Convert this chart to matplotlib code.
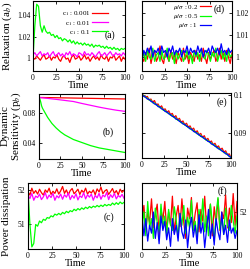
import numpy as np
import matplotlib.pyplot as plt

plt.rcParams['font.family'] = ['Liberation Serif', 'DejaVu Serif']
plt.rcParams['mathtext.fontset'] = 'stix'

W, H = 251, 269

# time axis (every 2 steps) and a coarser one for the smooth curves
t = np.arange(0, 101, 2)
t_smooth = [0, 1, 2, 3, 4, 5, 7.5, 10, 15, 20, 25, 30, 40, 50, 60, 70, 80, 90, 100]

c1_labels = ['c$_1$ : 0.001', 'c$_1$ : 0.01', 'c$_1$ : 0.1']
mu_labels = [r'$\mu/\sigma$ : 0.2', r'$\mu/\sigma$ : 0.5', r'$\mu/\sigma$ : 1']

# (a) relaxation vs c1
relax_001 = [1.000, 0.999, 1.002, 1.000, 0.998, 1.001, 1.003, 0.999, 1.000, 1.002, 0.998, 1.001, 1.000,
             1.003, 0.999, 0.997, 1.001, 1.002, 0.999, 1.000, 0.996, 1.001, 1.003, 0.999, 1.000, 1.002,
             0.998, 1.000, 1.003, 0.999, 1.001, 0.997, 1.000, 1.002, 0.999, 1.001, 0.998, 1.003, 1.000,
             0.999, 1.002, 0.997, 1.001, 1.000, 1.003, 0.998, 1.000, 1.002, 0.997, 1.001, 0.999]
relax_01 = [1.003, 1.005, 1.002, 1.004, 1.006, 1.002, 1.004, 1.003, 1.005, 1.001, 1.004, 1.006, 1.002,
            1.003, 1.005, 1.002, 1.004, 1.001, 1.005, 1.003, 1.006, 1.002, 1.004, 1.003, 1.001, 1.005,
            1.004, 1.002, 1.006, 1.003, 1.004, 1.002, 1.005, 1.003, 1.001, 1.004, 1.006, 1.002, 1.003,
            1.005, 1.002, 1.004, 1.006, 1.003, 1.002, 1.005, 1.003, 1.004, 1.002, 1.005, 1.003]
relax_1 = [1.000, 1.030, 1.050, 1.048, 1.030, 1.024, 1.030, 1.025, 1.023, 1.024, 1.021, 1.022, 1.019,
           1.021, 1.018, 1.019, 1.016, 1.018, 1.017, 1.015, 1.017, 1.014, 1.016, 1.013, 1.015, 1.013,
           1.014, 1.012, 1.014, 1.012, 1.013, 1.011, 1.013, 1.010, 1.012, 1.011, 1.012, 1.010, 1.011,
           1.009, 1.011, 1.009, 1.010, 1.008, 1.010, 1.008, 1.009, 1.007, 1.009, 1.008, 1.009]

# (b) dynamic sensitivity vs c1
sens_001 = [0.1000, 0.0999, 0.0999, 0.0999, 0.0999, 0.0999, 0.0998, 0.0998, 0.0997, 0.0996, 0.0995,
            0.0994, 0.0992, 0.0990, 0.0988, 0.0986, 0.0984, 0.0982, 0.0980]
sens_01 = [0.1000, 0.0998, 0.0997, 0.0996, 0.0995, 0.0994, 0.0991, 0.0988, 0.0981, 0.0975, 0.0968,
           0.0961, 0.0947, 0.0921, 0.0897, 0.0873, 0.0852, 0.0833, 0.0818]
sens_1 = [0.1000, 0.0980, 0.0940, 0.0890, 0.0860, 0.0840, 0.0790, 0.0740, 0.0660, 0.0600, 0.0550,
          0.0510, 0.0450, 0.0410, 0.0370, 0.0340, 0.0320, 0.0300, 0.0280]

# (c) power dissipation vs c1
power_001 = [51.95, 51.85, 52.05, 51.90, 51.98, 51.88, 52.02, 51.92, 51.85, 52.00, 51.93, 52.05, 51.87,
             51.96, 51.90, 52.03, 51.88, 51.97, 52.10, 51.90, 52.00, 51.86, 51.98, 52.04, 51.89, 51.95,
             52.02, 51.87, 51.99, 51.92, 52.05, 51.88, 51.96, 51.91, 52.00, 51.86, 52.03, 51.94, 52.08,
             51.89, 51.97, 52.01, 51.87, 51.95, 52.04, 51.90, 51.98, 51.86, 52.02, 51.93, 51.99]
power_01 = [51.85, 51.75, 51.90, 51.70, 51.82, 51.78, 51.88, 51.72, 51.80, 51.92, 51.74, 51.85, 51.78,
            51.90, 51.70, 51.83, 51.77, 51.88, 51.73, 51.86, 51.79, 51.91, 51.72, 51.84, 51.76, 51.89,
            51.71, 51.83, 51.78, 51.92, 51.74, 51.86, 51.79, 51.88, 51.70, 51.84, 51.77, 51.90, 51.73,
            51.85, 51.80, 51.93, 51.72, 51.86, 51.78, 51.90, 51.74, 51.84, 51.79, 51.87, 51.76]
power_1 = [52.00, 51.00, 50.35, 50.45, 51.00, 50.95, 51.10, 51.05, 51.15, 51.12, 51.20, 51.18, 51.25,
           51.22, 51.30, 51.27, 51.32, 51.28, 51.35, 51.31, 51.38, 51.34, 51.40, 51.37, 51.44, 51.40,
           51.46, 51.42, 51.48, 51.44, 51.50, 51.46, 51.52, 51.48, 51.53, 51.50, 51.55, 51.51, 51.56,
           51.52, 51.58, 51.54, 51.58, 51.55, 51.62, 51.57, 51.63, 51.58, 51.65, 51.60, 51.64]

# (d) relaxation vs mu/sigma
relax_m02 = [1.000, 0.998, 1.002, 0.999, 1.004, 0.997, 1.001, 1.003, 0.998, 1.000, 1.005, 0.999, 0.997,
             1.002, 1.000, 0.998, 1.003, 0.999, 1.001, 0.997, 1.002, 1.000, 0.998, 1.004, 0.999, 1.001,
             0.997, 1.002, 1.000, 0.998, 1.003, 0.999, 1.001, 0.998, 1.004, 1.000, 0.997, 1.002, 0.999,
             1.001, 1.003, 0.998, 1.000, 1.004, 0.999, 1.002, 0.998, 1.003, 1.000, 0.997, 1.002]
relax_m05 = [0.999, 1.002, 0.998, 1.003, 1.000, 0.999, 1.004, 0.998, 1.001, 1.002, 0.998, 1.003, 0.999,
             1.000, 1.004, 0.998, 1.001, 1.002, 0.997, 1.003, 0.999, 1.001, 1.003, 0.998, 1.000, 1.003,
             0.999, 1.001, 0.997, 1.003, 1.000, 1.002, 0.998, 1.003, 1.000, 0.999, 1.003, 1.001, 0.998,
             1.002, 1.000, 1.004, 0.998, 1.001, 1.003, 0.999, 1.002, 0.998, 1.003, 1.000, 1.001]
relax_m1 = [0.998, 1.003, 1.001, 1.004, 1.002, 1.005, 1.000, 1.003, 1.002, 1.004, 1.001, 1.005, 1.002,
            1.003, 1.000, 1.004, 1.002, 1.005, 1.001, 1.003, 1.002, 1.004, 1.000, 1.003, 1.002, 1.005,
            1.001, 1.004, 1.002, 1.003, 1.001, 1.005, 1.002, 1.004, 1.000, 1.003, 1.002, 1.004, 1.001,
            1.005, 1.003, 1.002, 1.004, 1.001, 1.006, 1.002, 1.003, 1.001, 1.004, 1.002, 1.003]

# (e) dynamic sensitivity vs mu/sigma
sens_m02 = [.1000, .0999, .0994, .0996, .0987, .0989, .0981, .0985, .0974, .0976, .0967, .0971, .0961,
            .0963, .0954, .0958, .0948, .0951, .0941, .0945, .0934, .0938, .0928, .0931, .0921, .0925,
            .0915, .0918, .0908, .0912, .0901, .0905, .0895, .0898, .0888, .0892, .0881, .0885, .0875,
            .0878, .0868, .0872, .0862, .0865, .0855, .0859, .0849, .0852, .0842, .0844, .0834]
sens_m05 = [.1000, .0998, .0993, .0992, .0986, .0986, .0979, .0979, .0973, .0972, .0966, .0966, .0959,
            .0959, .0953, .0952, .0946, .0946, .0940, .0939, .0933, .0933, .0926, .0926, .0920, .0919,
            .0913, .0913, .0907, .0906, .0900, .0900, .0893, .0893, .0887, .0886, .0880, .0880, .0874,
            .0873, .0867, .0867, .0860, .0860, .0854, .0853, .0847, .0847, .0841, .0839, .0834]
sens_m1 = [.1001, .0996, .0994, .0989, .0988, .0983, .0981, .0976, .0975, .0969, .0968, .0963, .0961,
           .0956, .0955, .0950, .0948, .0943, .0942, .0936, .0935, .0930, .0928, .0923, .0922, .0917,
           .0915, .0910, .0909, .0903, .0902, .0897, .0895, .0890, .0889, .0884, .0882, .0877, .0876,
           .0870, .0869, .0864, .0862, .0857, .0856, .0851, .0849, .0844, .0843, .0837, .0835]

# (f) power dissipation vs mu/sigma
power_m02 = [51.95, 52.05, 51.85, 52.00, 51.92, 52.10, 51.88, 51.98, 52.06, 51.83, 52.02, 51.94, 52.08,
             51.86, 52.00, 51.90, 52.12, 51.84, 51.97, 52.05, 51.89, 52.10, 51.92, 51.80, 52.03, 51.95,
             52.11, 51.87, 51.99, 52.07, 51.85, 52.02, 51.93, 52.12, 51.88, 51.96, 52.06, 51.82, 52.04,
             51.91, 52.10, 51.86, 52.00, 51.95, 52.13, 51.88, 52.03, 51.92, 52.14, 51.90, 52.08]
power_m05 = [51.90, 52.00, 51.82, 52.08, 51.88, 51.95, 51.80, 52.03, 51.92, 51.85, 52.06, 51.89, 51.97,
             51.83, 52.02, 51.91, 51.86, 52.04, 51.94, 51.81, 51.99, 51.90, 52.05, 51.84, 51.96, 51.88,
             52.09, 51.86, 51.93, 51.80, 52.02, 51.90, 52.10, 51.85, 51.97, 51.82, 52.06, 51.92, 51.78,
             51.99, 52.11, 51.87, 51.95, 51.83, 52.03, 51.90, 51.86, 52.05, 51.93, 51.84, 51.97]
power_m1 = [51.98, 51.82, 51.95, 51.78, 51.90, 51.84, 52.00, 51.80, 51.92, 51.76, 51.97, 51.86, 51.93,
            51.79, 51.88, 51.74, 51.95, 51.83, 51.90, 51.78, 51.99, 51.85, 51.80, 51.94, 51.73, 51.88,
            51.96, 51.81, 51.90, 51.76, 51.98, 51.84, 51.92, 51.73, 51.87, 52.02, 51.80, 51.91, 51.75,
            51.95, 51.85, 51.79, 52.00, 51.83, 51.90, 51.77, 51.94, 51.84, 51.88, 51.80, 51.86]

RED, MAG, GRN, BLU = '#ff0000', '#ff00ff', '#00ff00', '#0000ff'
LW = 0.9
TICK_FS = 5.5


def box(x0, y0, x1, y1):
    # pixel box (top-left origin) -> figure fraction rect
    return [x0 / W, 1 - y1 / H, (x1 - x0) / W, (y1 - y0) / H]


def style(ax, ylim, yticks, right=False):
    ax.set_xlim(0, 100)
    ax.set_ylim(*ylim)
    ax.set_xticks([0, 25, 50, 75, 100])
    ax.set_yticks(yticks)
    ax.tick_params(direction='in', length=2.5, width=0.6, labelsize=TICK_FS, pad=2,
                   top=True, right=True, left=True, bottom=True,
                   labelleft=not right, labelright=right)
    for s in ax.spines.values():
        s.set_linewidth(0.8)
    ax.set_xlabel('Time', fontsize=7.5, labelpad=-0.3)


fig = plt.figure(figsize=(W / 100, H / 100), dpi=100)

ax_a = fig.add_axes(box(33, 1, 125, 71))
ax_b = fig.add_axes(box(39, 94, 125, 159))
ax_c = fig.add_axes(box(28, 183, 124, 249))
ax_d = fig.add_axes(box(142, 1, 232, 71))
ax_e = fig.add_axes(box(142, 93, 231, 158))
ax_f = fig.add_axes(box(142, 183, 237, 249))

# (a)
for y, c, lab in zip([relax_001, relax_01, relax_1], [RED, MAG, GRN], c1_labels):
    ax_a.plot(t, y, color=c, lw=LW, label=lab)
style(ax_a, (0.988, 1.053), [1.0, 1.02, 1.04])
ax_a.set_yticklabels(['1', '1.02', '1.04'])
ax_a.legend(loc='upper right', bbox_to_anchor=(0.82, 0.88), frameon=False, fontsize=5,
            markerfirst=False, handlelength=2.3, handletextpad=0.3, labelspacing=0.05,
            borderpad=0, borderaxespad=0)
ax_a.text(0.84, 0.51, '(a)', transform=ax_a.transAxes, fontsize=7, ha='center', va='center')

# (b)
for y, c in zip([sens_001, sens_01, sens_1], [RED, MAG, GRN]):
    ax_b.plot(t_smooth, y, color=c, lw=LW)
style(ax_b, (0.0195, 0.1045), [0.04, 0.08])
ax_b.text(0.80, 0.415, '(b)', transform=ax_b.transAxes, fontsize=7, ha='center', va='center')

# (c)
for y, c in zip([power_001, power_01, power_1], [RED, MAG, GRN]):
    ax_c.plot(t, y, color=c, lw=LW)
style(ax_c, (50.29, 52.2), [51, 52])
ax_c.text(0.84, 0.48, '(c)', transform=ax_c.transAxes, fontsize=7, ha='center', va='center')

# (d)
for y, c, lab in zip([relax_m02, relax_m05, relax_m1], [RED, GRN, BLU], mu_labels):
    ax_d.plot(t, y, color=c, lw=LW, label=lab)
style(ax_d, (0.9936, 1.0255), [1.0, 1.01, 1.02], right=True)
ax_d.set_yticklabels(['1', '1.01', '1.02'])
ax_d.legend(loc='upper right', bbox_to_anchor=(0.77, 0.975), frameon=False, fontsize=5,
            markerfirst=False, handlelength=1.6, handletextpad=0.3, labelspacing=0.05,
            borderpad=0, borderaxespad=0)
ax_d.text(0.855, 0.89, '(d)', transform=ax_d.transAxes, fontsize=7, ha='center', va='center')

# (e)
for y, c in zip([sens_m02, sens_m05, sens_m1], [RED, GRN, BLU]):
    ax_e.plot(t, y, color=c, lw=LW)
style(ax_e, (0.0833, 0.1005), [0.09, 0.1], right=True)
ax_e.set_yticklabels(['0.09', '0.1'])
ax_e.text(0.9, 0.86, '(e)', transform=ax_e.transAxes, fontsize=7, ha='center', va='center')

# (f)
for y, c in zip([power_m02, power_m05, power_m1], [RED, GRN, BLU]):
    ax_f.plot(t, y, color=c, lw=LW)
style(ax_f, (51.72, 52.22), [52], right=True)
ax_f.text(0.85, 0.88, '(f)', transform=ax_f.transAxes, fontsize=7, ha='center', va='center')

# y labels on the left column
fig.text(7 / W, 1 - 36 / H, 'Relaxation (a$_b$)', rotation=90, fontsize=8,
         ha='center', va='center')
fig.text(12 / W, 1 - 126 / H, 'Dynamic\nSensitivity (p$_b$)', rotation=90, fontsize=8,
         ha='center', va='center', linespacing=1.0)
fig.text(7 / W, 1 - 216 / H, 'Power dissipation', rotation=90, fontsize=8,
         ha='center', va='center')

fig.savefig('out.png', dpi=100)
